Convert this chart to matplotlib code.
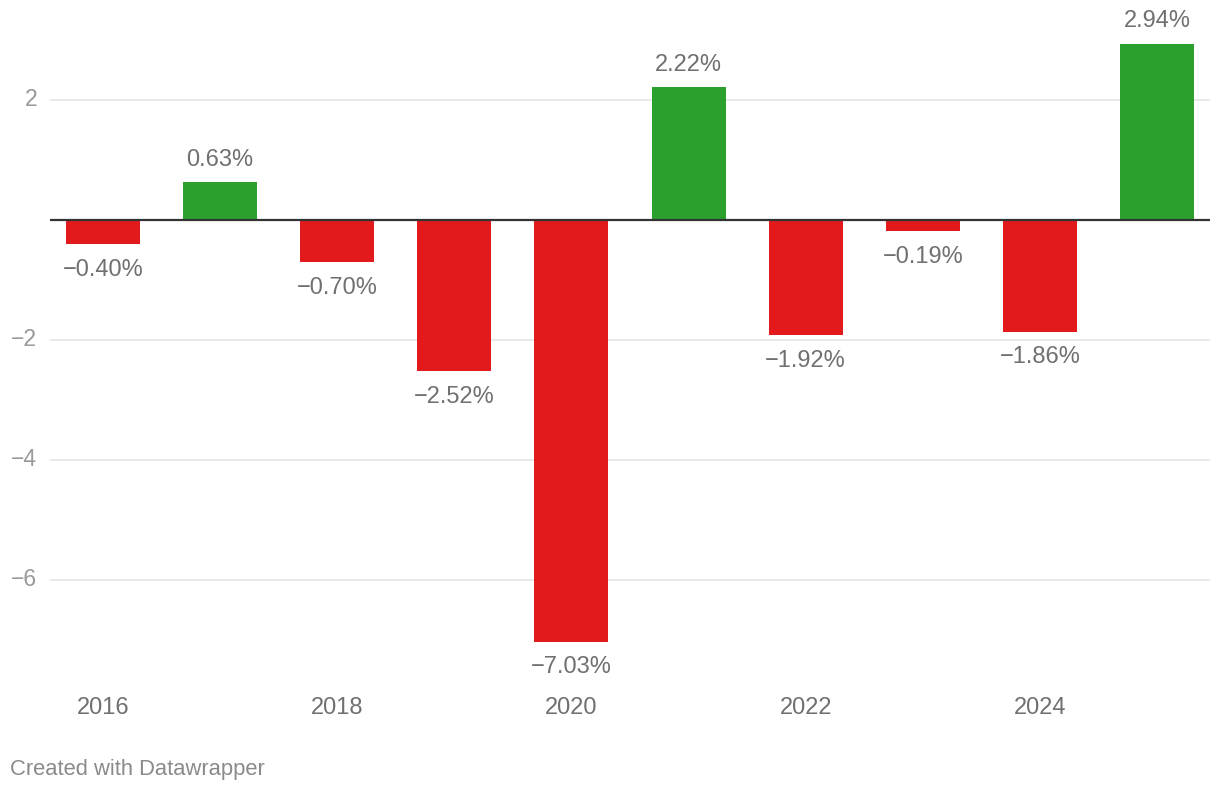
import matplotlib
matplotlib.use("Agg")
import matplotlib.pyplot as plt

years = [2016, 2017, 2018, 2019, 2020, 2021, 2022, 2023, 2024, 2025]
values = [-0.40, 0.63, -0.70, -2.52, -7.03, 2.22, -1.92, -0.19, -1.86, 2.94]
yticks = [2, -2, -4, -6]
xticks = [2016, 2018, 2020, 2022, 2024]

plt.rcParams['font.family'] = ['Liberation Sans', 'DejaVu Sans']

W, H = 1220, 792
fig = plt.figure(figsize=(W / 100, H / 100), dpi=100)
left_px, right_px, top_px, bottom_px = 50, 1210, 10, 680
ax = fig.add_axes([left_px / W, 1 - bottom_px / H, (right_px - left_px) / W, (bottom_px - top_px) / H])

ppu = 60.0
ax.set_ylim(-(bottom_px - 220) / ppu, (220 - top_px) / ppu)
ax.set_xlim(2016 - 53 / 117, 2025 + 53 / 117)

red = '#e31a1c'
green = '#2ca02c'
colors = [green if v >= 0 else red for v in values]
ax.bar(years, values, width=0.632, color=colors, zorder=2)

for y in yticks:
    ax.axhline(y, color='#e6e6e6', lw=1.2, zorder=1)
ax.axhline(0, color='#333333', lw=1.6, zorder=3)

for x, v in zip(years, values):
    label = f"{v:.2f}%".replace('-', '\u2212')
    off = 16 if v >= 0 else -18.5
    ax.annotate(label, (x, v), xytext=(0, off), textcoords='offset points',
                ha='center', va='center', fontsize=17, color='#707070')

for s in ax.spines.values():
    s.set_visible(False)
ax.set_yticks([])
ax.set_xticks(xticks)
ax.set_xticklabels([str(t) for t in xticks], fontsize=17, color='#707070')
ax.tick_params(axis='x', length=0, pad=12)

for y in yticks:
    fig.text(37 / W, 1 - (220 - y * ppu) / H, str(y).replace('-', '\u2212'),
             ha='right', va='center', fontsize=16.5, color='#9a9a9a')

fig.text(10 / W, 1 - 770 / H, 'Created with Datawrapper', ha='left', va='center',
         fontsize=15.8, color='#8a8a8a')

fig.savefig('out.png', dpi=100)
